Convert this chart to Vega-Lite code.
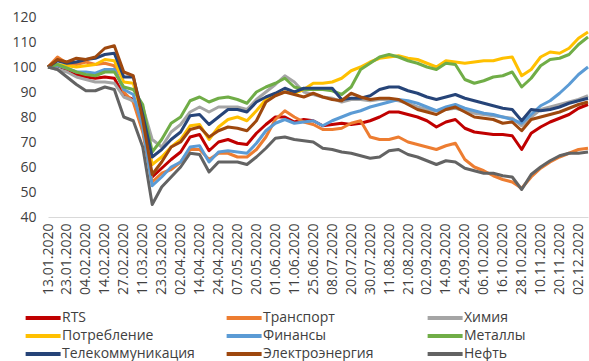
{
  "$schema": "https://vega.github.io/schema/vega-lite/v6.json",
  "width": 540,
  "height": 200,
  "autosize": {"type": "none"},
  "padding": {"left": 48, "top": 17, "right": 1, "bottom": 144},
  "background": "white",
  "config": {"view": {"stroke": null}, "font": "Open Sans"},
  "data": {"values": [
    {"d":"2020-01-13","r":100,"t":100,"h":100,"p":100,"f":100,"m":100,"k":100,"e":100,"n":100},
    {"d":"2020-01-17","r":100.5,"t":104,"h":99,"p":101,"f":100.5,"m":101,"k":102.5,"e":103,"n":99},
    {"d":"2020-01-23","r":99,"t":101.5,"h":98,"p":100.5,"f":99.5,"m":99.5,"k":101.5,"e":102,"n":96},
    {"d":"2020-01-29","r":97,"t":101,"h":96,"p":100,"f":98,"m":98,"k":102,"e":103.5,"n":93},
    {"d":"2020-02-04","r":96,"t":102,"h":95,"p":100.5,"f":98,"m":97,"k":103,"e":103,"n":90.5},
    {"d":"2020-02-10","r":95.5,"t":101,"h":94,"p":101,"f":97.5,"m":96.5,"k":103.5,"e":104,"n":90.5},
    {"d":"2020-02-14","r":96,"t":101.5,"h":94,"p":103,"f":99,"m":98,"k":105,"e":107.5,"n":92},
    {"d":"2020-02-20","r":95.5,"t":100.5,"h":93.5,"p":102.5,"f":99,"m":98,"k":105.5,"e":108.5,"n":91},
    {"d":"2020-02-27","r":88.5,"t":90,"h":88,"p":94,"f":91,"m":92,"k":96,"e":98,"n":80},
    {"d":"2020-03-04","r":87,"t":86,"h":86.5,"p":93.5,"f":89,"m":91,"k":96,"e":96.5,"n":78.5},
    {"d":"2020-03-11","r":75,"t":74,"h":84,"p":80,"f":76,"m":85,"k":81,"e":79,"n":68},
    {"d":"2020-03-17","r":56,"t":54,"h":71,"p":61,"f":52.5,"m":66,"k":64,"e":57,"n":45},
    {"d":"2020-03-23","r":59.5,"t":57.5,"h":68,"p":64,"f":56,"m":71,"k":67,"e":62,"n":52},
    {"d":"2020-03-27","r":63,"t":59,"h":74,"p":68,"f":60,"m":77.5,"k":71,"e":68,"n":56},
    {"d":"2020-04-02","r":66,"t":62,"h":77,"p":71,"f":62,"m":80,"k":74,"e":70,"n":60},
    {"d":"2020-04-08","r":72,"t":67,"h":82,"p":76.5,"f":68,"m":86.5,"k":80.5,"e":75,"n":65.5},
    {"d":"2020-04-14","r":73,"t":67,"h":84,"p":77,"f":68.5,"m":88,"k":81,"e":76,"n":65},
    {"d":"2020-04-20","r":66.5,"t":63,"h":82,"p":71,"f":62,"m":86,"k":77,"e":72,"n":58},
    {"d":"2020-04-24","r":70,"t":65.5,"h":84,"p":76,"f":66,"m":87.5,"k":80,"e":74.5,"n":62},
    {"d":"2020-04-30","r":71,"t":65.5,"h":84,"p":79,"f":66.5,"m":88,"k":83,"e":76,"n":62},
    {"d":"2020-05-07","r":69.5,"t":64,"h":84,"p":80,"f":66,"m":87,"k":83,"e":75.5,"n":62},
    {"d":"2020-05-14","r":69,"t":64,"h":83,"p":78.5,"f":65.5,"m":85.5,"k":82,"e":74.5,"n":61},
    {"d":"2020-05-20","r":73.5,"t":67,"h":87,"p":82.5,"f":69.5,"m":90,"k":86,"e":78.5,"n":64},
    {"d":"2020-05-26","r":77,"t":72,"h":90,"p":87,"f":74.5,"m":92,"k":88,"e":86,"n":67.5},
    {"d":"2020-06-01","r":80,"t":79,"h":93,"p":89,"f":77.5,"m":93.5,"k":89.5,"e":88.5,"n":71.5},
    {"d":"2020-06-05","r":80,"t":82.5,"h":96.5,"p":90,"f":79,"m":95.5,"k":91.5,"e":90,"n":72},
    {"d":"2020-06-11","r":78,"t":80,"h":94,"p":89.5,"f":77.5,"m":92,"k":90,"e":89,"n":71},
    {"d":"2020-06-18","r":79,"t":78,"h":90,"p":91,"f":78,"m":91,"k":91.5,"e":88,"n":70.5},
    {"d":"2020-06-25","r":78.5,"t":77,"h":89,"p":93.5,"f":78.5,"m":91,"k":91.5,"e":89.5,"n":70},
    {"d":"2020-07-02","r":76.5,"t":75,"h":88,"p":93.5,"f":76.5,"m":91,"k":91.5,"e":88,"n":67.5},
    {"d":"2020-07-08","r":77,"t":75,"h":87.5,"p":94,"f":78.5,"m":90.5,"k":91.5,"e":87,"n":67},
    {"d":"2020-07-14","r":77.5,"t":75.5,"h":86,"p":95.5,"f":80,"m":89,"k":87,"e":86.5,"n":66},
    {"d":"2020-07-20","r":77,"t":77.5,"h":87,"p":98.5,"f":81.5,"m":92,"k":87.5,"e":89.5,"n":65.5},
    {"d":"2020-07-24","r":77.5,"t":78.5,"h":87,"p":100,"f":82.5,"m":99,"k":87.5,"e":88,"n":64.5},
    {"d":"2020-07-30","r":78.5,"t":72,"h":86.5,"p":102,"f":84,"m":101.5,"k":88.5,"e":87,"n":63.5},
    {"d":"2020-08-05","r":80,"t":71,"h":87,"p":103.5,"f":85,"m":104,"k":91,"e":87.5,"n":64},
    {"d":"2020-08-11","r":82,"t":71,"h":87,"p":104,"f":86,"m":105,"k":92,"e":87.5,"n":66.5},
    {"d":"2020-08-17","r":82,"t":72,"h":86.5,"p":104.5,"f":87,"m":104,"k":92,"e":87,"n":67},
    {"d":"2020-08-21","r":81,"t":70,"h":85.5,"p":103.5,"f":86.5,"m":102.5,"k":90.5,"e":85,"n":65},
    {"d":"2020-08-27","r":80,"t":69,"h":84,"p":103,"f":85.5,"m":101.5,"k":89.5,"e":83,"n":64},
    {"d":"2020-09-02","r":78.5,"t":68,"h":83,"p":101.5,"f":84,"m":100,"k":88,"e":82,"n":62.5},
    {"d":"2020-09-08","r":76,"t":67,"h":82.5,"p":100,"f":82.5,"m":99,"k":87,"e":81,"n":61},
    {"d":"2020-09-14","r":78,"t":68.5,"h":83,"p":102.5,"f":84,"m":101.5,"k":88,"e":83,"n":62.5},
    {"d":"2020-09-18","r":79,"t":69.5,"h":83.5,"p":102,"f":85,"m":101,"k":89,"e":84,"n":62},
    {"d":"2020-09-24","r":75.5,"t":63,"h":82.5,"p":101.5,"f":83.5,"m":95,"k":87.5,"e":82,"n":59.5},
    {"d":"2020-09-30","r":74,"t":60,"h":81.5,"p":102,"f":82.5,"m":93.5,"k":86.5,"e":80,"n":58.5},
    {"d":"2020-10-06","r":73.5,"t":58.5,"h":81,"p":102.5,"f":81.5,"m":94.5,"k":85.5,"e":79.5,"n":57.5},
    {"d":"2020-10-12","r":73,"t":56.5,"h":80.5,"p":102.5,"f":81,"m":96,"k":84.5,"e":79,"n":57.5},
    {"d":"2020-10-16","r":73,"t":55,"h":80,"p":103.5,"f":80,"m":96.5,"k":83.5,"e":77.5,"n":56.5},
    {"d":"2020-10-22","r":72.5,"t":54,"h":79.5,"p":104,"f":79,"m":98,"k":83,"e":78,"n":56},
    {"d":"2020-10-28","r":67,"t":51.5,"h":76.5,"p":96.5,"f":77.5,"m":92,"k":78.5,"e":74.5,"n":51},
    {"d":"2020-11-03","r":73.5,"t":56,"h":80,"p":99,"f":81,"m":95.5,"k":83,"e":79,"n":57},
    {"d":"2020-11-10","r":76,"t":59.5,"h":83,"p":104,"f":84.5,"m":100.5,"k":82.5,"e":80,"n":60},
    {"d":"2020-11-16","r":78,"t":62,"h":84,"p":106,"f":86.5,"m":103,"k":83,"e":81,"n":62.5},
    {"d":"2020-11-20","r":79.5,"t":64,"h":85,"p":105.5,"f":89.5,"m":103.5,"k":84,"e":82,"n":64.5},
    {"d":"2020-11-26","r":81,"t":65.5,"h":86,"p":107.5,"f":93,"m":105,"k":85.5,"e":83.5,"n":65.5},
    {"d":"2020-12-02","r":83.5,"t":67,"h":87,"p":111.5,"f":97,"m":109,"k":86.5,"e":85,"n":65.5},
    {"d":"2020-12-08","r":85,"t":67.5,"h":88.5,"p":114,"f":100,"m":112,"k":87.5,"e":86,"n":66}
  ]},
  "transform": [
    {"fold": ["r","t","h","p","f","m","k","e","n"], "as": ["key","v"]},
    {"lookup": "key", "from": {"data": {"values": [
      {"key":"r","name":"RTS"},{"key":"t","name":"Транспорт"},{"key":"h","name":"Химия"},
      {"key":"p","name":"Потребление"},{"key":"f","name":"Финансы"},{"key":"m","name":"Металлы"},
      {"key":"k","name":"Телекоммуникация"},{"key":"e","name":"Электроэнергия"},{"key":"n","name":"Нефть"}
    ]}, "key": "key", "fields": ["name"]}}
  ],
  "mark": {"type": "line", "strokeWidth": 3, "strokeJoin": "round"},
  "encoding": {
    "x": {
      "field": "d", "type": "ordinal", "sort": null,
      "scale": {"type": "point", "padding": 0},
      "axis": {
        "title": null,
        "values": ["2020-01-13","2020-01-23","2020-02-04","2020-02-14","2020-02-27","2020-03-11","2020-03-23","2020-04-02","2020-04-14","2020-04-24","2020-05-07","2020-05-20","2020-06-01","2020-06-11","2020-06-25","2020-07-08","2020-07-20","2020-07-30","2020-08-11","2020-08-21","2020-09-02","2020-09-14","2020-09-24","2020-10-06","2020-10-16","2020-10-28","2020-11-10","2020-11-20","2020-12-02"],
        "labelExpr": "substring(datum.value,8,10)+'.'+substring(datum.value,5,7)+'.'+substring(datum.value,0,4)",
        "labelAngle": -90, "labelAlign": "right", "labelBaseline": "middle",
        "labelPadding": 6, "labelFontSize": 14, "labelColor": "#404040",
        "ticks": false, "grid": false, "domainColor": "#d9d9d9", "domainWidth": 1,
        "labelOverlap": false, "labelBound": false
      }
    },
    "y": {
      "field": "v", "type": "quantitative",
      "scale": {"domain": [40, 120], "nice": false, "zero": false},
      "axis": {
        "title": null, "values": [40,50,60,70,80,90,100,110,120],
        "ticks": false, "domain": false, "grid": false,
        "labelPadding": 12, "labelFontSize": 14, "labelColor": "#404040"
      }
    },
    "color": {
      "field": "name", "type": "nominal",
      "scale": {
        "domain": ["RTS","Транспорт","Химия","Потребление","Финансы","Металлы","Телекоммуникация","Электроэнергия","Нефть"],
        "range": ["#C00000","#ED7D31","#A5A5A5","#FFC000","#5B9BD5","#70AD47","#264478","#9E480E","#636363"]
      },
      "legend": {
        "title": null, "orient": "none", "legendX": -25, "legendY": 294,
        "columns": 3, "direction": "horizontal", "gridAlign": "all",
        "symbolType": "M-1,0H7", "symbolSize": 76.5, "symbolStrokeWidth": 4,
        "labelFontSize": 14, "labelColor": "#404040", "labelOffset": 25,
        "columnPadding": 23, "rowPadding": 2, "padding": 0
      }
    }
  }
}
